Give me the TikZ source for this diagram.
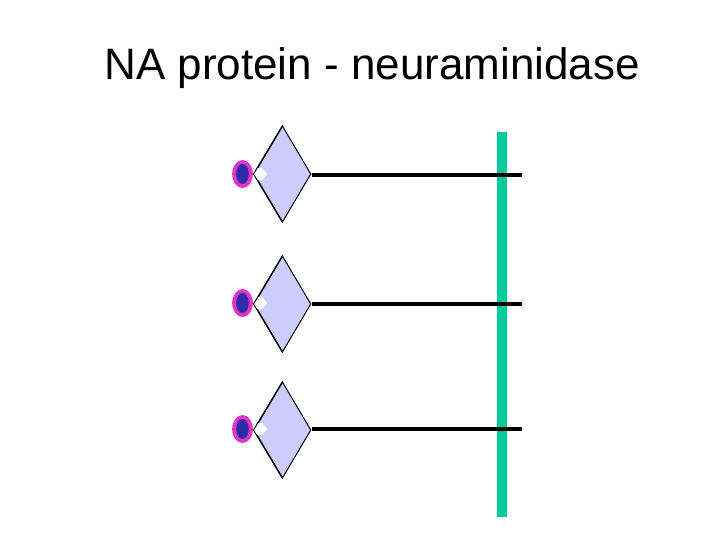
\documentclass[tikz,border=0pt]{standalone}
\usepackage{fontspec}
\setmainfont{Liberation Sans}
\usetikzlibrary{shapes.geometric}
\definecolor{hafill}{RGB}{204,204,255}
\definecolor{barcol}{RGB}{0,204,153}
\definecolor{rimcol}{RGB}{230,50,200}
\definecolor{corecol}{RGB}{45,45,165}
\tikzset{
  x=0.75pt,y=-0.75pt,
  protein/.style={diamond,draw=black,line width=0.75pt,fill=hafill,minimum width=42.75pt,minimum height=72pt,inner sep=0pt,aspect=0.6},
  rim/.style={ellipse,fill=rimcol,minimum width=15.5pt,minimum height=21pt,inner sep=0pt},
  core/.style={ellipse,fill=corecol,minimum width=9.5pt,minimum height=15pt,inner sep=0pt},
  stem/.style={line width=3pt,draw=black},
  membrane/.style={rectangle,fill=barcol,minimum width=7.5pt,minimum height=288.75pt,inner sep=0pt},
  notch/.style={fill=white,draw=none},
  titletext/.style={font=\fontsize{33pt}{40pt}\selectfont,anchor=base west,inner sep=0pt}
}
\begin{document}
\begin{tikzpicture}
\useasboundingbox (0,0) rectangle (720,540);
\fill[white] (0,0) rectangle (720,540);
\node[titletext] (title) at (104,79) {NA protein - neuraminidase};
\node[membrane] (bar) at (502,324.5) {};
\foreach \n/\y/\l/\o in {a/174/175/174,b/304/304/303,c/430/429/429}{
  \node[protein] (d\n) at (282.5,\y) {};
  \coordinate (e\n) at (522,\l);
  \draw[stem] (d\n.east |- e\n) -- (e\n);
  \fill[notch] (254,\o-6) -- (262,\o-6) -- (267,\o) -- (262,\o+6) -- (254,\o+6) -- (250,\o) -- cycle;
  \draw[black,line width=0.75pt] (d\n.north) -- (d\n.west) -- (d\n.south);
  \node[rim] (r\n) at (242.5,\o) {};
  \node[core] (k\n) at (242.5,\o) {};
}
\end{tikzpicture}
\end{document}
